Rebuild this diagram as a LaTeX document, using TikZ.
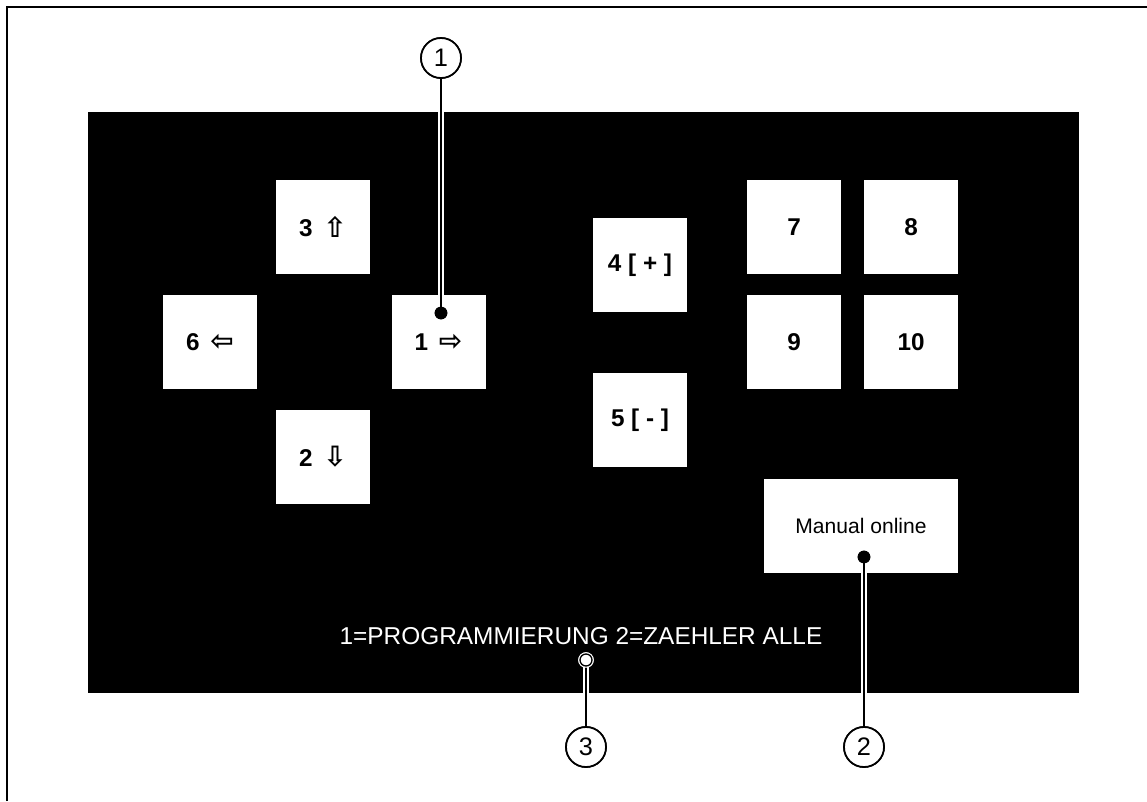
\documentclass[tikz,border=0pt]{standalone}
\usepackage{fontspec}
\setmainfont{Liberation Sans}
\newfontfamily\arrfont{DejaVu Sans}
\newcommand{\arrglyph}[1]{{\arrfont\fontsize{21}{21}\selectfont\raisebox{-0.5pt}{#1}}}
\begin{document}
\begin{tikzpicture}[x=0.75pt,y=-0.75pt,
  btn/.style={fill=white, minimum width=70.5pt, minimum height=70.5pt, inner sep=0pt,
    font=\bfseries\fontsize{18.2}{20}\selectfont},
  callout/.style={circle, draw=black, fill=white, line width=1.3pt, minimum size=30pt, inner sep=0pt,
    font=\fontsize{19}{22}\selectfont},
  leader/.style={line width=2.2pt, preaction={draw=white, line width=3.8pt}},
  dotmark/.style={circle, fill=black, minimum size=9.5pt, inner sep=0pt},
  odot/.style={circle, draw=black, fill=white, line width=1pt, minimum size=9pt, inner sep=0pt,
    preaction={draw=white, line width=2.6pt}}]
\useasboundingbox (0,0) rectangle (1147,801);
\draw[line width=1.6pt] (7,801) -- (7,7) -- (1147,7);
\fill[black] (88,112) rectangle (1079,693);
\node[btn] (b3) at (323,227) {3\hspace{0.45em}\arrglyph{⇧}};
\node[btn] (b6) at (210,342) {6\hspace{0.45em}\arrglyph{⇦}};
\node[btn] (b1) at (438.5,342) {1\hspace{0.45em}\arrglyph{⇨}};
\node[btn] (b2) at (323,457) {2\hspace{0.45em}\arrglyph{⇩}};
\node[btn] (b4) at (640,265) {4 [ + ]};
\node[btn] (b5) at (640,420) {5 [ - ]};
\node[btn] (b7) at (794,227) {7};
\node[btn] (b8) at (911,227) {8};
\node[btn] (b9) at (794,342) {9};
\node[btn] (b10) at (911,342) {10};
\node[btn, minimum width=145.5pt, font=\fontsize{15.8}{18}\selectfont] (man) at (861,526) {Manual online};
\node[text=white, font=\fontsize{18.3}{20}\selectfont, inner sep=0pt] (status) at (581,636) {1=PROGRAMMIERUNG 2=ZAEHLER ALLE};
\node[dotmark] (d1) at (441,313) {};
\node[dotmark] (d2) at (864,557) {};
\node[odot] (d3) at (586,660) {};
\node[callout] (c1) at (441,58) {1};
\node[callout] (c2) at (864,747) {2};
\node[callout] (c3) at (586,747) {3};
\draw[leader] (c1.south) -- (d1.center);
\draw[leader] (d2.center) -- (c2.north);
\draw[leader] (d3.south) -- (c3.north);
\node[dotmark] at (d1) {};
\node[dotmark] at (d2) {};
\node[odot] at (d3) {};
\node[callout] at (c1) {1};
\node[callout] at (c2) {2};
\node[callout] at (c3) {3};
\end{tikzpicture}
\end{document}
